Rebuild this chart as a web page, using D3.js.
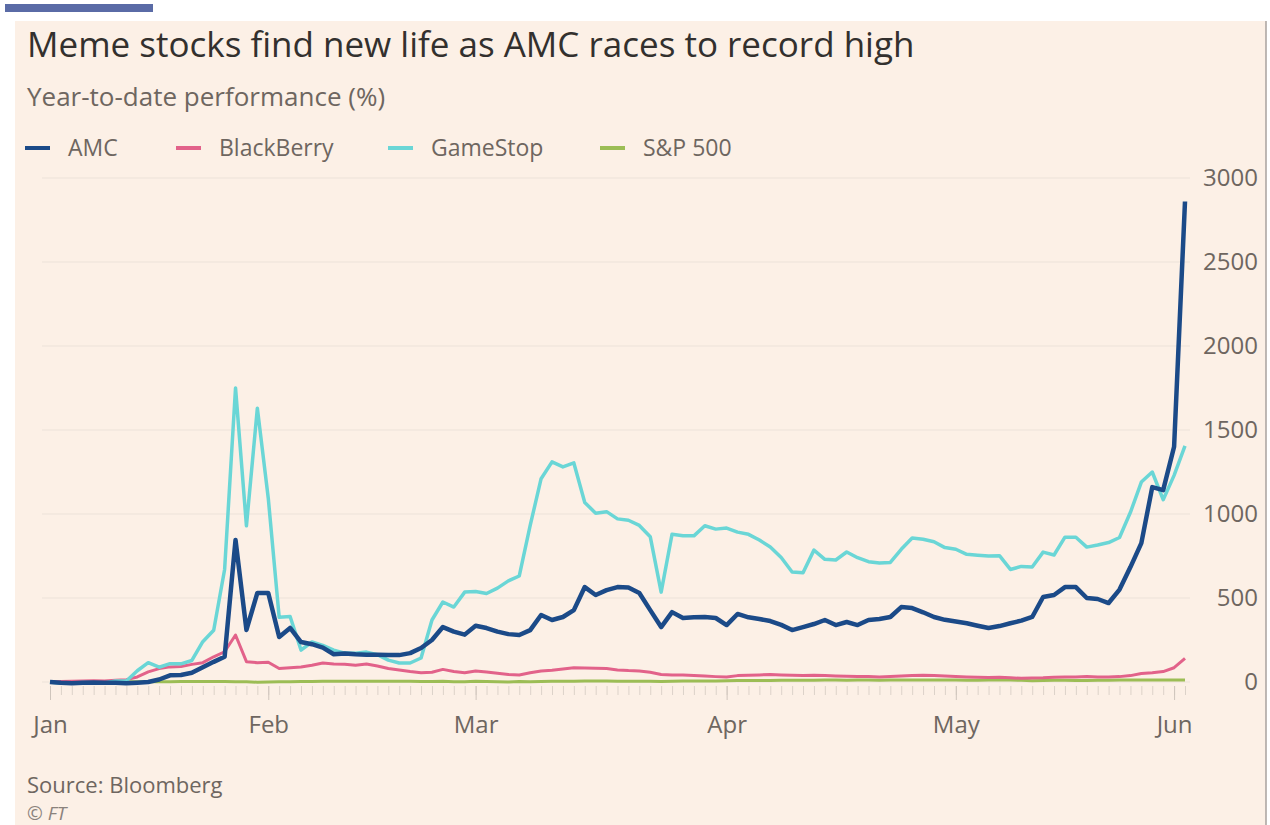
<!DOCTYPE html>
<html>
<head>
<meta charset="utf-8">
<script src="https://cdn.jsdelivr.net/npm/d3@7"></script>
<style>
  html, body { margin: 0; padding: 0; background: #ffffff; }
  svg { display: block; }
  text { font-family: "Open Sans", "Noto Sans", sans-serif; }
</style>
</head>
<body>
<div id="chart"></div>
<script>
// year-to-date % change, one value per trading day (31 Dec 2020 .. 2 Jun 2021)
const amc = [0, -5, -7, -5, -3, -5, -4, -7, -4, 0,
  15, 40, 42, 55, 88, 120, 150, 845, 310, 530,
  530, 268, 322, 238, 225, 205, 165, 170, 165, 162,
  162, 160, 160, 172, 202, 250, 327, 300, 282, 335,
  321, 300, 285, 280, 309, 399, 369, 387, 428, 565,
  518, 547, 565, 562, 530, 428, 327, 416, 381, 385,
  387, 381, 339, 405, 385, 375, 363, 340, 309, 327,
  345, 369, 339, 357, 339, 369, 375, 387, 446, 440,
  415, 387, 370, 360, 350, 335, 321, 333, 350, 365,
  387, 506, 518, 565, 565, 500, 494, 470, 550, 684,
  827, 1160, 1142, 1400, 2860];

const blackberry = [0, 3, 5, 6, 8, 6, 10, 14, 30, 60,
  80, 90, 92, 105, 115, 150, 180, 280, 121, 115,
  118, 80, 85, 89, 100, 113, 107, 105, 100, 107,
  95, 80, 71, 62, 55, 58, 75, 62, 55, 66,
  60, 52, 45, 42, 55, 66, 70, 78, 85, 84,
  82, 80, 72, 68, 66, 58, 45, 42, 42, 38,
  35, 32, 30, 38, 40, 42, 45, 42, 40, 38,
  40, 38, 36, 34, 33, 32, 30, 32, 35, 38,
  40, 38, 35, 33, 30, 28, 27, 28, 25, 22,
  24, 25, 28, 30, 30, 32, 30, 30, 32, 38,
  50, 55, 62, 85, 140];

const gamestop = [0, -8, -8, -3, -4, -6, 6, 6, 67, 115,
  88, 109, 108, 128, 240, 308, 670, 1750, 930, 1630,
  1094, 385, 390, 190, 238, 218, 190, 172, 171, 178,
  163, 130, 113, 113, 143, 369, 476, 446, 535, 539,
  527, 559, 602, 631, 932, 1210, 1310, 1280, 1304, 1068,
  1005, 1014, 971, 963, 932, 865, 535, 880, 870, 870,
  930, 910, 916, 892, 879, 845, 804, 741, 655, 650,
  785, 730, 726, 774, 740, 716, 708, 712, 790, 857,
  850, 835, 800, 790, 760, 755, 750, 752, 670, 688,
  684, 773, 756, 862, 862, 803, 815, 830, 860, 1010,
  1190, 1250, 1085, 1230, 1405];

const sp500 = [0, -1.5, -0.8, -0.2, 1.3, 1.9, 1.2, 1.3, 1.5, 1.9,
  1.2, 2.0, 3.4, 3.5, 3.2, 3.6, 3.4, 0.8, 1.7, -1.1,
  0.5, 1.9, 2.0, 3.1, 3.5, 4.3, 4.2, 4.2, 4.4, 4.9,
  4.7, 4.7, 4.3, 4.1, 3.3, 3.5, 4.7, 2.2, 1.7, 4.1,
  3.3, 2.0, 0.6, 2.5, 2.0, 3.5, 4.1, 4.7, 4.9, 5.6,
  5.4, 5.8, 4.2, 4.1, 4.9, 4.1, 3.5, 4.1, 5.8, 5.7,
  5.4, 5.8, 7.0, 8.6, 8.5, 8.7, 9.2, 10.1, 10.1, 10.5,
  10.0, 11.2, 11.6, 11.0, 12.1, 11.2, 10.1, 11.3, 11.5, 11.5,
  11.3, 12.0, 11.2, 11.6, 10.8, 10.9, 11.8, 12.6, 11.4, 10.4,
  7.9, 9.1, 10.7, 10.5, 9.6, 9.3, 10.5, 10.4, 11.6, 11.3,
  11.6, 11.7, 11.9, 11.9, 12.0];

const seriesNames = ["AMC", "BlackBerry", "GameStop", "S&P 500"];
const seriesColors = ["#1b4a88", "#e2628a", "#6ad6d6", "#9cbd55"];
const seriesWidths = [4.5, 3, 3.5, 3];

// first trading day of each month, as an index into the arrays above
const monthTickIdx = [0, 20, 39, 62, 83, 103];
const monthLabels = ["Jan", "Feb", "Mar", "Apr", "May", "Jun"];
const yTicks = [0, 500, 1000, 1500, 2000, 2500, 3000];

let width = 1270;
let height = 825;
let textColor = "#6e6660";
let svg = d3.select("#chart")
  .append("svg")
  .attr("width", width)
  .attr("height", height);

// panel + top marker bar
svg.append("rect")
  .attr("x", 15).attr("y", 21)
  .attr("width", 1251).attr("height", 804)
  .attr("fill", "#fcf0e6");
svg.append("line")
  .attr("x1", 1266).attr("x2", 1266)
  .attr("y1", 21).attr("y2", 825)
  .attr("stroke", "#a8a29e").attr("stroke-width", 1.5);
svg.append("rect")
  .attr("x", 5).attr("y", 4)
  .attr("width", 148).attr("height", 8)
  .attr("fill", "#5a6ba6");

svg.append("text")
  .attr("x", 27).attr("y", 57)
  .attr("font-size", 35)
  .attr("fill", "#33302e")
  .text("Meme stocks find new life as AMC races to record high");

svg.append("text")
  .attr("x", 27).attr("y", 106)
  .attr("font-size", 26)
  .attr("fill", textColor)
  .text("Year-to-date performance (%)");

// legend
let legendX = [25, 176, 388, 600];
let legend = svg.append("g").attr("class", "legend");
seriesNames.forEach(function(name, i) {
  legend.append("line")
    .attr("x1", legendX[i]).attr("x2", legendX[i] + 25)
    .attr("y1", 148).attr("y2", 148)
    .attr("stroke", seriesColors[i])
    .attr("stroke-width", 4);
  legend.append("text")
    .attr("x", legendX[i] + 43).attr("y", 156)
    .attr("font-size", 23)
    .attr("fill", textColor)
    .text(name);
});

let x = d3.scaleLinear()
  .domain([0, amc.length - 1])
  .range([50, 1185]);
let y = d3.scaleLinear()
  .domain([0, 3000])
  .range([682, 178]);

// gridlines
svg.append("g")
  .attr("class", "grid")
  .selectAll("line")
  .data(yTicks)
  .enter()
  .append("line")
  .attr("x1", 42).attr("x2", 1190)
  .attr("y1", d => y(d)).attr("y2", d => y(d))
  .attr("stroke", "#ece2d9")
  .attr("stroke-width", 1);

// y labels on the right
let yAxis = d3.axisRight(y)
  .tickValues(yTicks)
  .tickSize(0)
  .tickFormat(d3.format("d"));
let yg = svg.append("g")
  .attr("transform", "translate(1258,0)")
  .call(yAxis);
yg.select(".domain").remove();
yg.selectAll("text")
  .attr("x", 0)
  .attr("text-anchor", "end")
  .attr("font-size", 24)
  .attr("font-family", "Open Sans, sans-serif")
  .attr("fill", textColor);

// small day ticks along the bottom
let dayIdx = d3.range(amc.length);
let xAxis = d3.axisBottom(x)
  .tickValues(dayIdx)
  .tickSize(9)
  .tickFormat("");
let xg = svg.append("g")
  .attr("transform", "translate(0,686)")
  .call(xAxis);
xg.select(".domain").remove();
xg.selectAll("line").attr("stroke", "#dcd2c9").attr("stroke-width", 1);

let monthAxis = d3.axisBottom(x)
  .tickValues(monthTickIdx)
  .tickSize(14)
  .tickFormat((d, i) => monthLabels[i]);
let mg = svg.append("g")
  .attr("transform", "translate(0,686)")
  .call(monthAxis);
mg.select(".domain").remove();
mg.selectAll("line").attr("stroke", "#cfc5bc");
mg.selectAll("text")
  .attr("y", 30)
  .attr("font-size", 24)
  .attr("font-family", "Open Sans, sans-serif")
  .attr("fill", textColor);

// lines, S&P first so the stocks sit on top
let line = d3.line()
  .x((d, i) => x(i))
  .y(d => y(d));
let allSeries = [amc, blackberry, gamestop, sp500];
let drawOrder = [3, 1, 2, 0];
let lines = svg.append("g").attr("class", "lines");
drawOrder.forEach(function(k) {
  lines.append("path")
    .datum(allSeries[k])
    .attr("fill", "none")
    .attr("stroke", seriesColors[k])
    .attr("stroke-width", seriesWidths[k])
    .attr("stroke-linejoin", "round")
    .attr("d", line);
});

svg.append("text")
  .attr("x", 27).attr("y", 793)
  .attr("font-size", 22)
  .attr("fill", textColor)
  .text("Source: Bloomberg");
svg.append("text")
  .attr("x", 27).attr("y", 820)
  .attr("font-size", 19)
  .attr("font-style", "italic")
  .attr("fill", "#8a827c")
  .text("© FT");
</script>
</body>
</html>
